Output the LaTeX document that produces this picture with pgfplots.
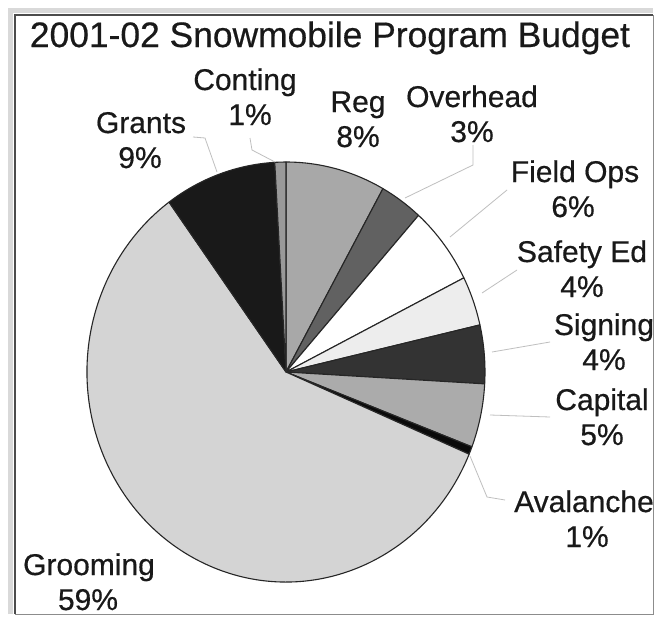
\documentclass[border=0pt]{standalone}
\usepackage{pgfplots}
\pgfplotsset{compat=1.18}
\usepackage{pgfplotstable}
\usepackage{fontspec}
\setmainfont{Liberation Sans}
\newfontfamily\lblfont[FakeBold=0.5]{Liberation Sans}

% slice share (percent) and grey level (percent white), clockwise from 12 o'clock
\pgfplotstableread{
value shade
8.1  66
3.5  38
6.0  100
3.8  93
4.5  20
4.9  67
0.6  4
58.6 83
9.1  10
0.9  60
}\budget

\newcommand{\lbl}[5]{% x, baseline 1, text 1, x of 2nd line, text 2
  \node[anchor=base, font=\lblfont\fontsize{30}{35}\selectfont, text=black!90] at (axis cs:#1,#2) {#3};
  \node[anchor=base, font=\lblfont\fontsize{30}{35}\selectfont, text=black!90] at (axis cs:#4,#2+35) {#5};
}

\begin{document}
\begin{tikzpicture}
\begin{axis}[
  scale only axis, width=659pt, height=616pt,
  xmin=0, xmax=659, ymin=0, ymax=616, y dir=reverse,
  hide axis, clip=false,
]
\pgfplotsextra{
  \fill[white] (axis cs:0,0) rectangle (axis cs:659,616);
  \pgfplotstablegetrowsof{\budget}
  \pgfmathtruncatemacro\nrows{\pgfplotsretval-1}
  \gdef\startangle{90}
  \foreach \i in {0,...,\nrows}{
    \pgfplotstablegetelem{\i}{value}\of\budget
    \let\val\pgfplotsretval
    \pgfplotstablegetelem{\i}{shade}\of\budget
    \let\shd\pgfplotsretval
    \pgfmathsetmacro\endangle{\startangle-3.6*\val}
    \filldraw[fill=white!\shd!black, draw=black!85, line width=1.1pt, line join=round]
      (axis cs:286,372) -- ++(\startangle:199pt and 210pt)
      arc[start angle=\startangle, end angle=\endangle, x radius=199pt, y radius=210pt] -- cycle;
    \xdef\startangle{\endangle}
  }
}

% frame
\draw[black!15, line width=5pt] (axis cs:10,614) -- (axis cs:10,10) -- (axis cs:653,10);
\draw[black!70, line width=2.5pt] (axis cs:15,614) -- (axis cs:15,15) -- (axis cs:653,15);
\draw[black!45, line width=1pt] (axis cs:653,15) -- (axis cs:653,614) -- (axis cs:15,614);

% title
\node[anchor=base, font=\lblfont\fontsize{35.4}{40}\selectfont, text=black!90] at (axis cs:330,47)
  {2001-02 Snowmobile Program Budget};

% leader lines
\begin{scope}[black!25, line width=0.8pt]
\draw (axis cs:193,137) -- (axis cs:205,138) -- (axis cs:217,172);
\draw (axis cs:250,138) -- (axis cs:252,150) -- (axis cs:275,162);
\draw (axis cs:473,145) -- (axis cs:473,165) -- (axis cs:405,198);
\draw (axis cs:507,190) -- (axis cs:450,237);
\draw (axis cs:517,270) -- (axis cs:482,293);
\draw (axis cs:550,342) -- (axis cs:492,352);
\draw (axis cs:550,417) -- (axis cs:490,415);
\draw (axis cs:470,456) -- (axis cs:487,497) -- (axis cs:505,500);
\end{scope}

% labels
\lbl{141}{133}{Grants}{140}{9\%}
\lbl{245}{90}{Conting}{250}{1\%}
\lbl{358}{112}{Reg}{358}{8\%}
\lbl{472}{107}{Overhead}{472}{3\%}
\lbl{575}{182}{Field Ops}{573}{6\%}
\lbl{582}{262}{Safety Ed}{582}{4\%}
\lbl{604}{335}{Signing}{604}{4\%}
\lbl{602}{410}{Capital}{602}{5\%}
\lbl{584}{512}{Avalanche}{587}{1\%}
\lbl{89}{575}{Grooming}{88}{59\%}
\end{axis}
\end{tikzpicture}
\end{document}
